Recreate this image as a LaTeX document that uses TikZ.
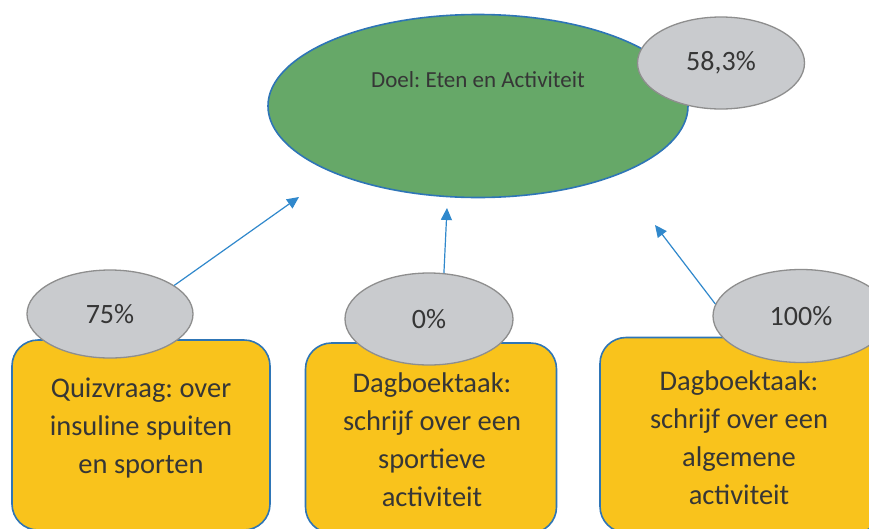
\documentclass[tikz,border=0pt]{standalone}
\usepackage{fontspec}
\setmainfont{Carlito}
\frenchspacing
\usetikzlibrary{shapes.geometric,arrows.meta}
\definecolor{goalgreen}{HTML}{66A868}
\definecolor{edgeblue}{HTML}{2E75B6}
\definecolor{arrowblue}{HTML}{3088CC}
\definecolor{scoregray}{HTML}{C9CBCE}
\definecolor{scoreedge}{HTML}{8E8E8E}
\definecolor{taskyellow}{HTML}{F9C31C}
\definecolor{inkgray}{HTML}{363636}
\begin{document}
\begin{tikzpicture}[x=1pt,y=-1pt,
  goal/.style={ellipse, draw=edgeblue, line width=1.6pt, fill=goalgreen, inner sep=0pt},
  score/.style={ellipse, draw=scoreedge, line width=1.3pt, fill=scoregray, inner sep=0pt,
    text=inkgray, font=\fontsize{28}{32}\selectfont},
  taskbox/.style={draw=edgeblue, line width=1.6pt, fill=taskyellow, rounded corners=26pt, inner sep=0pt},
  tasktext/.style={align=center, text=inkgray, font=\fontsize{28.5}{38}\selectfont, inner sep=0pt},
  conn/.style={draw=arrowblue, line width=1.2pt, -{Triangle[length=12pt,width=11pt]}}]
\useasboundingbox (0,0) rectangle (869,528);
\fill[white] (0,0) rectangle (869,528);
\clip (0,0) rectangle (869,528);

% goal with its overall score
\node[goal, minimum width=420pt, minimum height=183pt] (goal) at (478,106) {};
\node[text=inkgray, font=\fontsize{23}{27}\selectfont] (goaltext) at (478,80) {Doel: Eten en Activiteit};
\node[score, minimum width=167pt, minimum height=92pt] (p0) at (721,63) {58,3\%};

% task boxes
\node[taskbox, minimum width=258pt, minimum height=190pt] (b1) at (141,435) {};
\node[taskbox, minimum width=251pt, minimum height=190pt] (b2) at (431,438) {};
\node[taskbox, minimum width=282pt, minimum height=195pt] (b3) at (741,435) {};

\node[tasktext] (t1) at (141,428) {Quizvraag: over\\insuline spuiten\\en sporten};
\node[tasktext] (t2) at (432,440) {Dagboektaak:\\schrijf over een\\sportieve\\activiteit};
\node[tasktext] (t3) at (739,438) {Dagboektaak:\\schrijf over een\\algemene\\activiteit};

% task scores
\node[score, minimum width=166pt, minimum height=88pt] (p1) at (110,314) {75\%};
\node[score, minimum width=168pt, minimum height=92pt] (p2) at (429,319) {0\%};
\node[score, minimum width=176pt, minimum height=93pt] (p3) at (801,316) {100\%};

% arrows towards the goal
\coordinate (e1) at (299,197);
\coordinate (e2) at (447,208);
\coordinate (e3) at (655,225);
\draw[conn] (p1.24) -- (e1);
\draw[conn] (p2.72) -- (e2);
\draw[conn] (p3.172) -- (e3);
\end{tikzpicture}
\end{document}
